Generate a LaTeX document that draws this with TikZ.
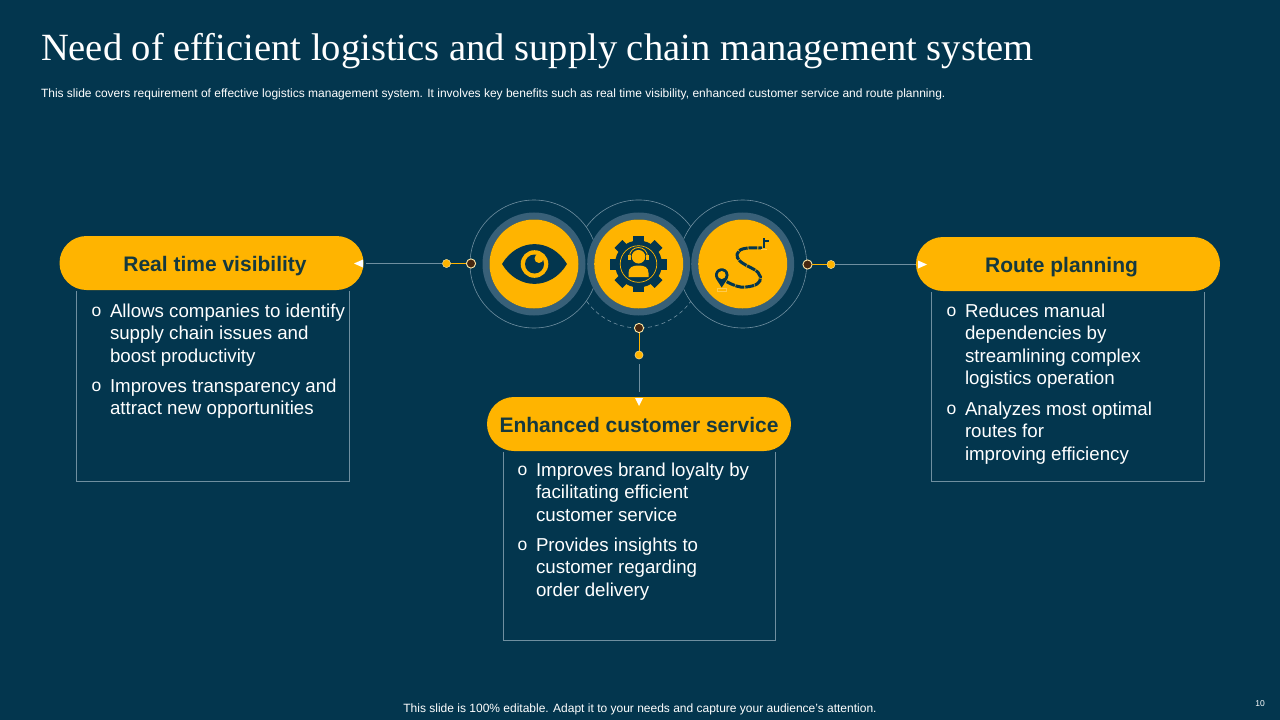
\documentclass[tikz,border=0pt]{standalone}
\usepackage{fontspec}
\setmainfont{Liberation Sans}
\newfontfamily\titlefont{Liberation Serif}
\usetikzlibrary{positioning,shapes.geometric}
\definecolor{bgblue}{HTML}{03364E}
\definecolor{amber}{HTML}{FFB400}
\definecolor{ringblue}{HTML}{386078}
\definecolor{thinline}{HTML}{6F8FA0}
\definecolor{pilltext}{HTML}{15393F}
\definecolor{dotdark}{HTML}{47270F}
\definecolor{paleline}{HTML}{FFE9A8}

\begin{document}
\begin{tikzpicture}[x=1pt,y=-1pt]
\tikzset{
    every node/.style = {inner sep=0pt, outer sep=0pt},
    pill/.style = {fill=amber, rounded corners=27pt, minimum width=304pt, minimum height=54pt,
        text=pilltext, text height=17pt, text depth=0pt, font=\fontsize{21}{24}\selectfont\bfseries},
    bullettext/.style = {anchor=north west, text=white, align=left, font=\fontsize{18.7}{22.5}\selectfont},
    bulletmark/.style = {anchor=north west, text=white, font=\fontsize{17.5}{20}\selectfont},
    disc/.style = {circle, fill=amber, minimum size=89pt},
    ring/.style = {circle, draw=ringblue, line width=7pt, minimum size=96pt},
    halo/.style = {circle, draw=thinline, line width=.6pt, minimum size=128pt},
    hub/.style = {circle, fill=dotdark, draw=paleline, line width=.9pt, minimum size=9.2pt},
    tipdot/.style = {circle, fill=amber, draw=paleline, line width=.4pt, minimum size=8.2pt},
    arrowmark/.style = {fill=white, draw=none},
    hairline/.style = {draw=thinline, line width=.6pt},
    stem/.style = {draw=amber, line width=1pt}
}
\fill[bgblue] (0,0) rectangle (1280,720);

% -------------------------------------------------------
\node[anchor=base west, text=white, font=\fontsize{38.55}{40}\selectfont\titlefont] (title) at (41,60)
    {Need of efficient logistics and supply chain management system};
\node[anchor=base west, text=white, font=\fontsize{12}{13}\selectfont] (subtitle) at (41,97)
    {This slide covers requirement of effective logistics management system. It involves key benefits such as real time visibility, enhanced customer service and route planning.};

% -------------------------------------------------------
\node[halo] (haloa) at (534,264) {};
\node[halo] (haloc) at (742.7,264) {};
\draw[hairline] (690.7,226.7) arc[start angle=35.6, end angle=144.4, radius=64pt];
\draw[hairline, dash pattern=on 4pt off 3pt] (586.7,301.3) arc[start angle=215.6, end angle=324.4, radius=64pt];

\foreach \name/\cx in {a/534, b/638.7, c/742.7} {
    \node[ring] (ring\name) at (\cx,264) {};
    \node[disc] (disc\name) at (\cx,264) {};
}

% eye
\fill[bgblue] (502,264) .. controls (518,237.5) and (551,237.5) .. (567,264)
    .. controls (551,290.5) and (518,290.5) .. cycle;
\fill[amber] (534.5,264) circle[radius=13.8pt];
\fill[bgblue] (534.5,264) circle[radius=9.5pt];
\fill[amber] (539,258.5) circle[radius=4.5pt];

% gear
\fill[bgblue] (638.5,264) circle[radius=23.5pt];
\foreach \a in {0,45,...,315}
    \fill[bgblue, rotate around={\a:(638.5,264)}] (633,235.7) rectangle (644,244);
\draw[amber, line width=.7pt] (638.5,264) circle[radius=18.3pt];
\fill[amber] (638.5,256.7) circle[radius=6.8pt];
\fill[amber] (628.5,277) -- (628.5,273) .. controls (628.5,267) and (633,265.5) .. (638.5,265.5)
    .. controls (644,265.5) and (648.5,267) .. (648.5,273) -- (648.5,277) -- cycle;
\draw[amber, line width=.8pt] (629.5,256.5) arc[start angle=180, end angle=0, radius=9pt];
\fill[amber] (628.3,254.5) rectangle (630.8,259.5);
\fill[amber] (646.2,254.5) rectangle (648.7,259.5);

% route
\draw[bgblue, line width=3pt, dash pattern=on 9pt off .8pt] (726.7,281.7)
    .. controls (733,285) and (739,288) .. (746,287)
    .. controls (756,286) and (761,283) .. (760.5,277)
    .. controls (759,270) and (750,268) .. (744,264)
    .. controls (737,260) and (735,255) .. (739,251)
    .. controls (743,247) and (753,248) .. (762,248);
\fill[bgblue] (721.7,287.5) -- (716,278.7) arc[start angle=212, end angle=-32, radius=6.8pt] -- cycle;
\fill[amber] (721.7,275) circle[radius=4pt];
\draw[amber!70!white, line width=.5pt] (717.5,288.5) rectangle (726,290.8);
\draw[bgblue, line width=1.1pt] (764,238) -- (764,248);
\fill[bgblue] (762.5,240) rectangle (768.5,242);
\draw[amber!70!white, line width=.5pt] (761,249.5) -- (767,249.5);

% -------------------------------------------------------
\node[pill] (visibility) at (211.5,263) {\hspace{7pt}Real time visibility};
\node[pill] (service) at (639,424) {Enhanced customer service};
\node[pill] (route) at (1068,264) {Route planning\hspace{13pt}\null};

\node[hub] (hubl) at (471,263.5) {};
\node[tipdot] (tipl) at (446.5,263.5) {};
\node[hub] (hubr) at (807.5,264.5) {};
\node[tipdot] (tipr) at (831,264.5) {};
\node[hub] (hubm) at (639,328) {};
\node[tipdot] (tipm) at (639,355) {};

\path[stem] (hubl) -- (tipl);
\path[stem] (hubr) -- (tipr);
\path[stem] (hubm) -- (tipm);
\draw[hairline] (tipl) -- (366,263.5);
\draw[hairline] (tipr) -- (916,264.5);
\draw[hairline] (639,364) -- (639,392);

\fill[arrowmark] (354,263.5) -- (363,259.5) -- (363,267.5) -- cycle;
\fill[arrowmark] (927,264.5) -- (918,260.5) -- (918,268.5) -- cycle;
\fill[arrowmark] (639,406) -- (635,398) -- (643,398) -- cycle;

% -------------------------------------------------------
\draw[hairline] (76,291) -- (76,481) -- (349,481) -- (349,291);
\draw[hairline] (503,452) -- (503,640) -- (775,640) -- (775,452);
\draw[hairline] (931,292) -- (931,481) -- (1204,481) -- (1204,292);

\node[bulletmark] (ma) at (91.5,307.5) {o};
\node[bullettext] (ta) at (110,303.5) {Allows companies to identify\\supply chain issues and\\boost productivity};
\node[bulletmark] (mb) at (91.5,382.5) {o};
\node[bullettext] (tb) at (110,378.5) {Improves transparency and\\attract new opportunities};

\node[bulletmark] (mc) at (517.5,466.5) {o};
\node[bullettext] (tc) at (536,462.5) {Improves brand loyalty by\\facilitating efficient\\customer service};
\node[bulletmark] (md) at (517.5,541.5) {o};
\node[bullettext] (td) at (536,537.5) {Provides insights to\\customer regarding\\order delivery};

\node[bulletmark] (me) at (946.5,307.5) {o};
\node[bullettext] (te) at (965,303.5) {Reduces manual\\dependencies by\\streamlining complex\\logistics operation};
\node[bulletmark] (mf) at (946.5,405.5) {o};
\node[bullettext] (tf) at (965,401.5) {Analyzes most optimal\\routes for\\improving efficiency};

% -------------------------------------------------------
\node[anchor=base, text=white, font=\fontsize{12}{13}\selectfont] (footer) at (640,712.5)
    {This slide is 100\% editable. Adapt it to your needs and capture your audience's attention.};
\node[anchor=base, text=white, font=\fontsize{8.5}{10}\selectfont] (pagenum) at (1260,706) {10};
\end{tikzpicture}
\end{document}
